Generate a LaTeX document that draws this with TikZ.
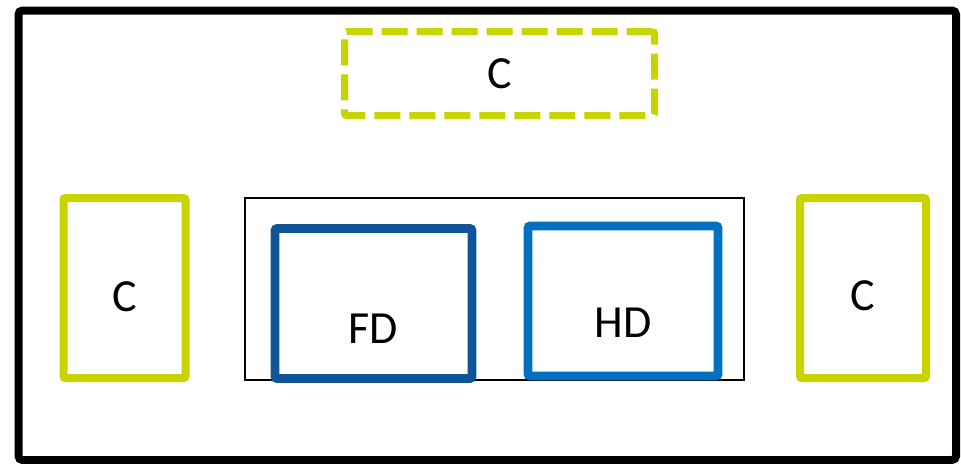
\documentclass[tikz,border=0pt]{standalone}
\usepackage{fontspec}
\setmainfont{Carlito}
\usepackage{xcolor}
\usetikzlibrary{positioning}

\definecolor{cgreen}{RGB}{200,212,0}
\definecolor{fdblue}{RGB}{15,84,148}
\definecolor{hdblue}{RGB}{0,112,192}

\begin{document}
\begin{tikzpicture}[x=0.5pt, y=-0.5pt, font=\fontsize{23}{27}\selectfont]
    \tikzstyle{cbox} = [rectangle, draw=cgreen, line width=4pt, rounded corners=1pt, minimum width=61pt, minimum height=90pt, inner sep=0pt]
    \tikzstyle{dbox} = [rectangle, draw, line width=4.3pt, rounded corners=1pt, minimum width=98.5pt, minimum height=75pt, inner sep=0pt]
    \useasboundingbox (0,0) rectangle (961,463);

    % frame
    \draw[line width=4pt, rounded corners=2pt] (18.5,10.5) rectangle (956,460);

    % top
    \node [cbox, line width=3.5pt, dash pattern=on 13pt off 4.5pt, minimum width=155pt, minimum height=42pt] (ctop) at (499.5,73.5) {C};

    % sides
    \node [cbox, label={[yshift=-4.5pt]center:C}] (cleft) at (124.5,288) {};
    \node [cbox, minimum width=63pt, label={[yshift=-4pt]center:C}] (cright) at (863,288) {};

    % middle group
    \node [rectangle, draw, line width=0.75pt, minimum width=249.5pt, minimum height=91pt] (group) at (494.5,289) {};
    \node [dbox, draw=fdblue, label={[yshift=-12.5pt]center:FD}] (fd) at (373.5,303.5) {};
    \node [dbox, draw=hdblue, minimum width=95pt, label={[yshift=-11pt]center:HD}] (hd) at (623,301) {};
\end{tikzpicture}
\end{document}
